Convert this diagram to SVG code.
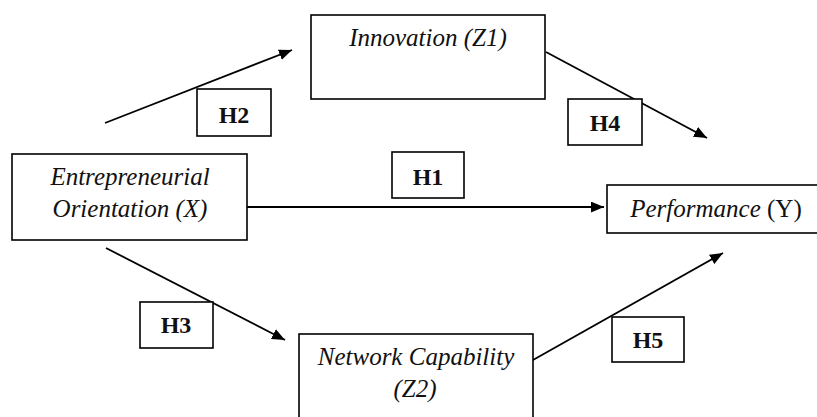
<svg xmlns="http://www.w3.org/2000/svg" width="817" height="417" viewBox="0 0 817 417">
  <defs>
    <marker id="arrow" viewBox="0 0 12 10" refX="12" refY="5" markerWidth="13" markerHeight="11" markerUnits="userSpaceOnUse" orient="auto">
      <path d="M0,0 L12,5 L0,10 Z" fill="#000"/>
    </marker>
    <style>
      .box { fill: #fff; stroke: #000; stroke-width: 1.6; }
      .lbl { fill: #fff; stroke: #000; stroke-width: 1.6; }
      .edge { fill: none; stroke: #000; stroke-width: 1.8; marker-end: url(#arrow); }
      .node-text { font-family: "Liberation Serif", "Times New Roman", serif; font-size: 25px; font-style: italic; fill: #111; text-anchor: middle; }
      .h-text { font-family: "Liberation Serif", "Times New Roman", serif; font-size: 24px; font-weight: bold; fill: #111; text-anchor: middle; }
    </style>
  </defs>
  <rect width="817" height="417" fill="#fff"/>

  <!-- connectors -->
  <g id="connectors">
    <line class="edge" x1="105" y1="123" x2="292" y2="50"/>
    <line class="edge" x1="546" y1="52" x2="707" y2="138"/>
    <line class="edge" x1="247" y1="207" x2="604" y2="207"/>
    <line class="edge" x1="106" y1="248" x2="285" y2="340"/>
    <line class="edge" x1="533" y1="360" x2="723" y2="253"/>
  </g>

  <g id="node-innovation">
    <rect class="box" x="311" y="15" width="234" height="84"/>
    <text class="node-text" x="428" y="46">Innovation (Z1)</text>
  </g>

  <g id="node-eo">
    <rect class="box" x="12" y="154" width="235" height="86"/>
    <text class="node-text" x="130" y="185">Entrepreneurial</text>
    <text class="node-text" x="130" y="217">Orientation (X)</text>
  </g>

  <g id="node-performance">
    <rect class="box" x="607" y="185" width="220" height="48" stroke-width="2.2"/>
    <text class="node-text" x="716" y="217"><tspan>Performance</tspan><tspan font-style="normal"> (Y)</tspan></text>
  </g>

  <g id="node-network">
    <rect class="box" x="299" y="334" width="234" height="100"/>
    <text class="node-text" x="416" y="365">Network Capability</text>
    <text class="node-text" x="415" y="397">(Z2)</text>
  </g>

  <g id="label-h1">
    <rect class="lbl" x="392" y="152" width="72" height="46"/>
    <text class="h-text" x="428" y="185">H1</text>
  </g>
  <g id="label-h2">
    <rect class="lbl" x="197" y="89" width="74" height="47"/>
    <text class="h-text" x="234" y="123">H2</text>
  </g>
  <g id="label-h3">
    <rect class="lbl" x="140" y="302" width="73" height="46"/>
    <text class="h-text" x="176" y="333">H3</text>
  </g>
  <g id="label-h4">
    <rect class="lbl" x="568" y="99" width="74" height="46"/>
    <text class="h-text" x="605" y="131">H4</text>
  </g>
  <g id="label-h5">
    <rect class="lbl" x="612" y="317" width="72" height="45"/>
    <text class="h-text" x="648" y="348">H5</text>
  </g>
</svg>
